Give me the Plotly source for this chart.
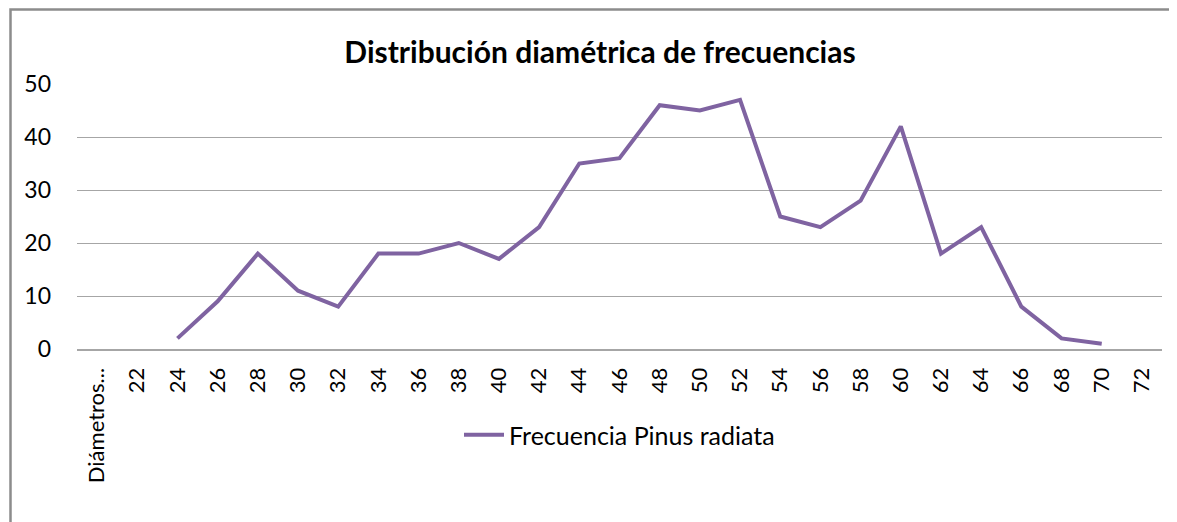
import plotly.graph_objects as go

categories = ["Diámetros...", "22", "24", "26", "28", "30", "32", "34", "36", "38", "40",
              "42", "44", "46", "48", "50", "52", "54", "56", "58", "60", "62", "64",
              "66", "68", "70", "72"]
frecuencia = [None, None, 2, 9, 18, 11, 8, 18, 18, 20, 17, 23, 35, 36, 46, 45, 47,
              25, 23, 28, 42, 18, 23, 8, 2, 1, None]
y_ticks = [0, 10, 20, 30, 40, 50]

FONT = "Lato, 'Open Sans', sans-serif"

# page has an 8px body margin, so the figure is 8px smaller than the window
W, H = 1169, 514
PL, PR, PT, PB = 69, 1154, 76, 341  # plot area in figure pixels
PW, PH = PR - PL, PB - PT

fig = go.Figure()
fig.add_trace(go.Scatter(
    x=categories, y=frecuencia, mode="lines",
    name="Frecuencia Pinus radiata",
    line=dict(color="#7F63A1", width=4),
    connectgaps=False,
))

fig.update_layout(
    width=W, height=H,
    margin=dict(l=PL, r=W - PR, t=PT, b=H - PB, autoexpand=False),
    paper_bgcolor="white", plot_bgcolor="white",
    font=dict(family=FONT, size=23, color="#000000"),
    title=dict(text="<b>Distribución diamétrica de frecuencias</b>",
               x=592 / W, xanchor="center", y=1 - 44 / H, yanchor="middle",
               font=dict(family=FONT, size=30, color="#000000")),
    xaxis=dict(type="category", range=[-0.5, len(categories) - 0.5],
               tickangle=-90, showgrid=False,
               showline=True, linecolor="#A6A6A6", linewidth=2,
               ticks="", ticklabelstandoff=8,
               tickfont=dict(family=FONT, size=22, color="#000000")),
    yaxis=dict(range=[0, 50], tickvals=y_ticks, showgrid=True,
               gridcolor="#A6A6A6", gridwidth=1.4, zeroline=False,
               ticks="", ticklabelstandoff=25,
               tickfont=dict(family=FONT, size=23, color="#000000")),
    showlegend=True,
    legend=dict(orientation="h", x=0.5, xanchor="center",
                y=(PB - 427) / PH, yanchor="middle",
                font=dict(family=FONT, size=25, color="#000000"),
                itemwidth=40),
    shapes=[dict(type="rect", xref="paper", yref="paper",
                 x0=(2.5 - PL) / PW, x1=1.2, y0=-1.5, y1=(PB - 1.5) / PH,
                 line=dict(color="#8C8C8C", width=2.5), fillcolor="rgba(0,0,0,0)",
                 layer="below")],
)

fig.write_html("out.html")
